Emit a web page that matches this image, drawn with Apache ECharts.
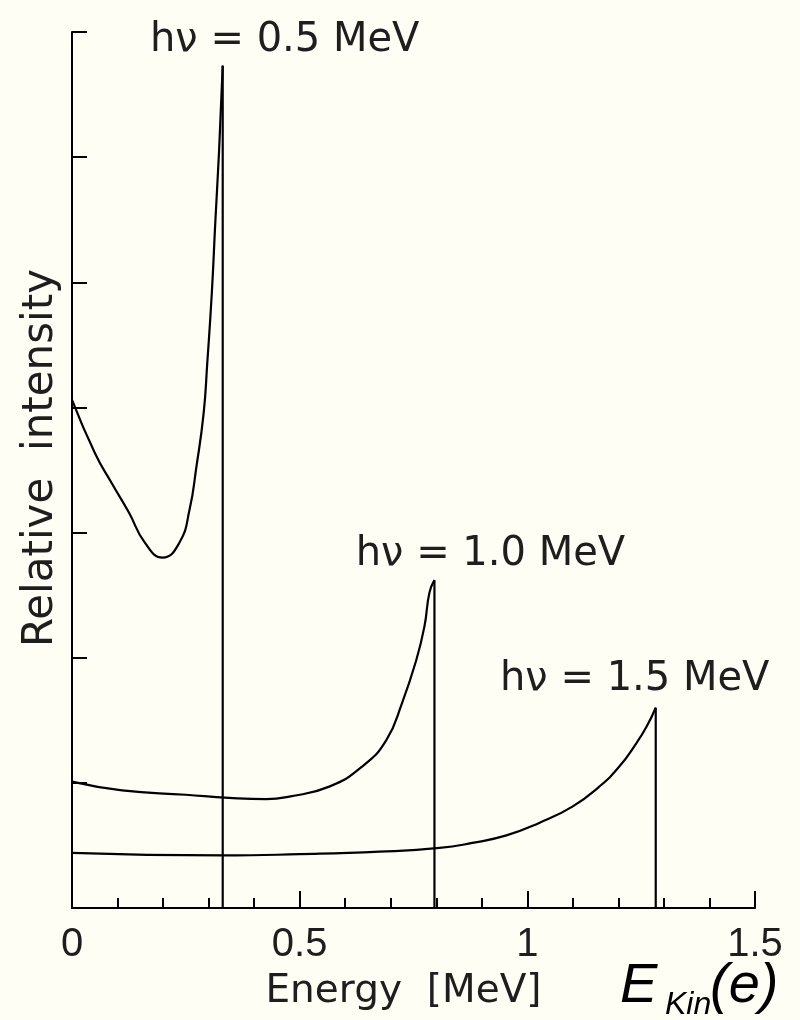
<!DOCTYPE html>
<html>
<head>
<meta charset="utf-8">
<script src="https://cdn.jsdelivr.net/npm/echarts@6/dist/echarts.min.js"></script>
<style>
  html, body { margin: 0; padding: 0; background: #fffef4; }
  #chart { width: 800px; height: 1020px; }
</style>
</head>
<body>
<div id="chart"></div>
<script>
// Compton-electron energy spectra for three photon energies.
const photonLabels = ['hν = 0.5 MeV', 'hν = 1.0 MeV', 'hν = 1.5 MeV'];
const comptonEdges = [0.331, 0.796, 1.282];        // MeV, maximum electron energy
const labelOffsets = [[62, 0], [56, 0], [-21, -3]];

const energy05    = [0, 0.051, 0.088, 0.125, 0.160, 0.199, 0.236, 0.258, 0.273, 0.289, 0.297, 0.307, 0.315, 0.323, 0.331];
const intensity05 = [4.06, 3.63, 3.39, 3.16, 2.92, 2.80, 2.92, 3.18, 3.52, 3.95, 4.35, 4.91, 5.50, 6.05, 6.73];

const energy10    = [0, 0.11, 0.25, 0.345, 0.426, 0.477, 0.565, 0.637, 0.69, 0.725, 0.756, 0.774, 0.785, 0.796];
const intensity10 = [1.01, 0.94, 0.905, 0.88, 0.87, 0.89, 0.97, 1.13, 1.34, 1.64, 1.98, 2.25, 2.52, 2.62];

const energy15    = [0, 0.33, 0.5, 0.675, 0.807, 0.879, 0.954, 1.026, 1.099, 1.158, 1.202, 1.24, 1.262, 1.282];
const intensity15 = [0.44, 0.42, 0.43, 0.45, 0.48, 0.52, 0.58, 0.68, 0.81, 0.97, 1.13, 1.32, 1.45, 1.60];

const xTickValues = [0, 0.5, 1, 1.5];
const xTickLabels = ['0', '0.5', '1', '1.5'];

const spectra = [
  [energy05, intensity05],
  [energy10, intensity10],
  [energy15, intensity15]
];

const ink = '#000';
const textInk = '#1e1e1e';

const series = [];
spectra.forEach(([xs, ys], i) => {
  // continuous part of the spectrum
  series.push({
    type: 'line',
    data: xs.map((x, k) => [x, ys[k]]),
    smooth: 0.5,
    showSymbol: false,
    lineStyle: { color: ink, width: 2.2 },
    silent: true
  });
  // sharp drop at the Compton edge, labelled with the photon energy
  const edge = comptonEdges[i];
  const peak = ys[ys.length - 1];
  series.push({
    type: 'line',
    data: [
      { value: [edge, 0] },
      {
        value: [edge, peak],
        label: {
          show: true,
          formatter: photonLabels[i],
          position: 'top',
          distance: 5,
          offset: labelOffsets[i],
          fontFamily: 'DejaVu Sans',
          fontSize: 40,
          color: textInk
        }
      }
    ],
    showSymbol: true,
    symbol: 'circle',
    symbolSize: 1,
    itemStyle: { color: ink },
    lineStyle: { color: ink, width: 2.2 },
    silent: true
  });
});

const chart = echarts.init(document.getElementById('chart'), null, { renderer: 'canvas' });
chart.setOption({
  animation: false,
  backgroundColor: '#fffef4',
  grid: { left: 72, right: 45, top: 32, bottom: 112, containLabel: false, outerBoundsMode: 'none' },
  xAxis: {
    type: 'value',
    min: 0,
    max: 1.5,
    interval: 0.5,
    name: 'Energy  [MeV]',
    nameLocation: 'middle',
    nameGap: 64,
    nameTextStyle: { fontFamily: 'DejaVu Sans', fontSize: 39, color: textInk, padding: [0, 20, 0, 0] },
    axisLine: { lineStyle: { color: ink, width: 2 } },
    axisTick: { inside: true, length: 17, lineStyle: { color: ink, width: 2 } },
    minorTick: { show: true, splitNumber: 5, length: 10, lineStyle: { color: ink, width: 2 } },
    splitLine: { show: false },
    axisLabel: {
      margin: 17,
      fontFamily: 'Liberation Sans',
      fontSize: 40,
      color: textInk,
      formatter: v => {
        const k = xTickValues.findIndex(t => Math.abs(t - v) < 1e-9);
        return k >= 0 ? xTickLabels[k] : '';
      }
    }
  },
  yAxis: {
    type: 'value',
    min: 0,
    max: 7,
    interval: 1,
    name: 'Relative  intensity',
    nameLocation: 'middle',
    nameRotate: 90,
    nameGap: 10,
    nameTextStyle: { fontFamily: 'DejaVu Sans', fontSize: 42, color: textInk, padding: [0, 0, 0, 24] },
    axisLine: { show: true, lineStyle: { color: ink, width: 2 } },
    axisTick: { show: true, inside: true, length: 15, lineStyle: { color: ink, width: 2 } },
    axisLabel: { show: false },
    splitLine: { show: false }
  },
  graphic: [
    { type: 'text', left: 620, top: 958, silent: true,
      style: { text: 'E', fontFamily: 'Liberation Sans', fontStyle: 'italic', fontSize: 56, fill: '#000' } },
    { type: 'text', left: 665, top: 989, silent: true,
      style: { text: 'Kin', fontFamily: 'Liberation Sans', fontStyle: 'italic', fontSize: 32, fill: '#000' } },
    { type: 'text', left: 710, top: 958, silent: true,
      style: { text: '(e)', fontFamily: 'Liberation Sans', fontStyle: 'italic', fontSize: 56, fill: '#000' } }
  ],
  series: series
});
</script>
</body>
</html>
